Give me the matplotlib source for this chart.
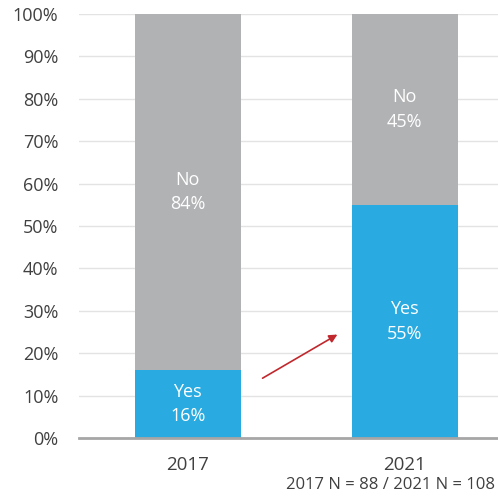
import matplotlib.pyplot as plt
from matplotlib.ticker import PercentFormatter

years = ["2017", "2021"]
yes_pct = [16, 55]
no_pct = [84, 45]
note = "2017 N = 88 / 2021 N = 108"

blue = "#29ABE2"
grey = "#B1B2B4"
text_col = "#404040"

plt.rcParams['font.family'] = ['Open Sans', 'DejaVu Sans']

fig = plt.figure(figsize=(4.98, 4.98), dpi=100)
ax = fig.add_axes([0.159, 0.1205, 0.841, 0.8514])

x = range(len(years))
ax.bar(x, yes_pct, width=0.49, color=blue, zorder=2)
ax.bar(x, no_pct, width=0.49, bottom=yes_pct, color=grey, zorder=2)

# segment labels
for i in x:
    ax.text(i, yes_pct[i] / 2, f"Yes\n{yes_pct[i]}%", ha="center", va="center",
            color="white", fontsize=13, linespacing=1.45, zorder=3)
    ax.text(i, yes_pct[i] + no_pct[i] / 2, f"No\n{no_pct[i]}%", ha="center", va="center",
            color="white", fontsize=13, linespacing=1.45, zorder=3)

# arrow showing the increase
ax.annotate("", xy=(0.69, 24.4), xytext=(0.345, 14.1),
            arrowprops=dict(arrowstyle="-|>", color="#C0282D", lw=1.2,
                            mutation_scale=12, shrinkA=0, shrinkB=0), zorder=4)

ax.set_xlim(-0.5, 1.43)
ax.set_ylim(0, 100)
ax.set_yticks(range(0, 101, 10))
ax.yaxis.set_major_formatter(PercentFormatter(decimals=0))
ax.set_xticks(list(x))
ax.set_xticklabels(years)
ax.tick_params(axis="both", length=0, colors=text_col)
ax.tick_params(axis="x", pad=13, labelsize=13.5)
ax.tick_params(axis="y", pad=15, labelsize=13)
ax.grid(axis="y", color="#E3E3E3", lw=1, zorder=0)
for side in ["top", "right", "left"]:
    ax.spines[side].set_visible(False)
ax.spines["bottom"].set_color("#A6A6A6")
ax.spines["bottom"].set_linewidth(2)

fig.text(0.994, 0.026, note, ha="right", va="center", color=text_col, fontsize=12)

fig.savefig("out.png", dpi=100)
